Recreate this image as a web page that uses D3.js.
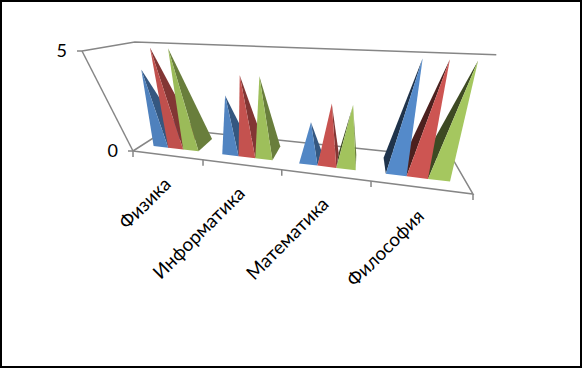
<!DOCTYPE html>
<html>
<head>
<meta charset="utf-8">
<script src="https://cdn.jsdelivr.net/npm/d3@7"></script>
<style>
  html, body { margin: 0; padding: 0; background: #fff; }
  svg { display: block; }
  text { font-family: Lato, sans-serif; font-size: 18px; fill: #000; }
  .cat-label { font-size: 18.8px; }
</style>
</head>
<body>
<svg id="chart" width="582" height="368"></svg>
<script>
const categories = ['Физика', 'Информатика', 'Математика', 'Философия'];
const seriesNames = ['Ряд 1', 'Ряд 2', 'Ряд 3'];
const seriesColors = ['#4f81bd', '#c0504d', '#9bbb59'];
const series1 = [4, 3, 2, 5];
const series2 = [5, 4, 3, 5];
const series3 = [5, 4, 3, 5];
const valueTicks = [0, 5];

const allSeries = [series1, series2, series3];

let svg = d3.select('#chart');

// frame round the picture
svg.append('rect')
  .attr('x', 1).attr('y', 1)
  .attr('width', 580).attr('height', 366)
  .attr('fill', '#fff')
  .attr('stroke', '#000')
  .attr('stroke-width', 2);

// scales work in the unit cube, project() takes that to the screen
let x0 = d3.scaleBand().domain(categories).range([0, 1]);
let x1 = d3.scaleBand().domain(seriesNames).range([0, x0.bandwidth()]).paddingInner(0).paddingOuter(0.75);
let y = d3.scaleLinear().domain([0, 5]).range([0, 1]);
let depth = d3.scaleLinear().domain([0, 1]).range([0.25, 0.75]);

// perspective, worked out from the corners of the chart box
const origin = [133, 151];
const frontRight = [473, 194];
const frontTop = [82, 51];
const backLeft = [168, 128.5];
const pu = -0.222, pv = -0.225, pz = 0.18;

function project(u, v, z) {
  let d = 1 + pu * u + pv * v + pz * z;
  return [0, 1].map(i => {
    let h = origin[i]
      + u * ((1 + pu) * frontRight[i] - origin[i])
      + v * ((1 + pv) * frontTop[i] - origin[i])
      + z * ((1 + pz) * backLeft[i] - origin[i]);
    return h / d;
  });
}

let line = d3.line();
let axisColor = '#868686';

// walls and floor outline
let box = svg.append('g').attr('fill', 'none').attr('stroke', axisColor).attr('stroke-width', 1.5);
box.append('path').attr('d', line([project(0, 1, 0), project(0, 1, 1), project(1, 1, 1)]));
box.append('path').attr('d', line([project(0, 1, 0), project(0, 0, 0)]));
box.append('path').attr('d', line([project(0, 0, 0), project(0, 0, 1), project(1, 0, 1), project(1, 0, 0), project(0, 0, 0)]));

// value axis ticks and labels
valueTicks.forEach(t => {
  let p = project(0, y(t), 0);
  box.append('path').attr('d', line([[p[0] - 5, p[1]], p]));
  svg.append('text')
    .attr('x', p[0] - 15)
    .attr('y', p[1] + 6)
    .attr('text-anchor', 'end')
    .text(t);
});

// category ticks
d3.range(categories.length + 1).forEach(i => {
  let p = project(i / categories.length, 0, 0);
  box.append('path').attr('d', line([p, [p[0], p[1] + 6]]));
});

// category labels
categories.forEach(c => {
  let p = project(x0(c) + x0.bandwidth() / 2, 0, 0);
  svg.append('text')
    .attr('class', 'cat-label')
    .attr('transform', `translate(${p[0] + 5},${p[1] + 30})rotate(-45)`)
    .attr('text-anchor', 'end')
    .text(c);
});

// pyramids, the ones far from the eye first
let bars = [];
categories.forEach((c, ci) => {
  seriesNames.forEach((s, si) => {
    bars.push({ c: c, ci: ci, si: si, value: allSeries[si][ci], u0: x0(c) + x1(s), u1: x0(c) + x1(s) + x1.bandwidth() });
  });
});
bars.sort((a, b) => Math.abs(b.u0 + b.u1 - 1.2) - Math.abs(a.u0 + a.u1 - 1.2));

let pyramids = svg.append('g');
bars.forEach(d => {
  let fl = project(d.u0, 0, depth(0));
  let fr = project(d.u1, 0, depth(0));
  let bl = project(d.u0, 0, depth(1));
  let br = project(d.u1, 0, depth(1));
  let top = project((d.u0 + d.u1) / 2, y(d.value), 0.5);
  let base = d3.color(seriesColors[d.si]);
  let faces = [
    { pts: [bl, fl, top], fill: base.darker(2.6) },
    { pts: [fr, br, top], fill: base.darker(1.1) },
    { pts: [fl, fr, top], fill: base.brighter(0.06 * d.ci) }
  ];
  let facing = d3.polygonArea(faces[2].pts) > 0;
  faces.forEach(f => {
    if ((d3.polygonArea(f.pts) > 0) !== facing) return;
    pyramids.append('path')
      .attr('d', line(f.pts) + 'Z')
      .attr('fill', f.fill.toString());
  });
});
</script>
</body>
</html>
